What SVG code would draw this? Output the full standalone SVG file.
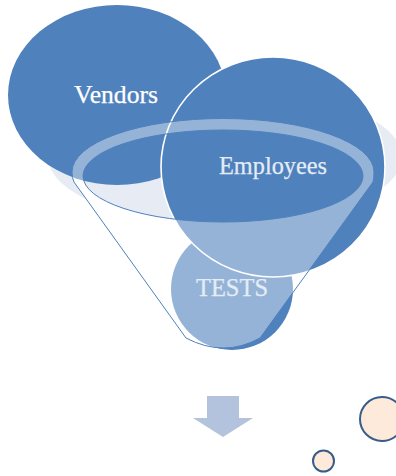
<svg xmlns="http://www.w3.org/2000/svg" width="396" height="476" viewBox="0 0 396 476">
<style>
.blue{fill:#4f81bd}
.lbl{font-family:"Liberation Serif","DejaVu Serif",serif;font-size:25px;fill:#fff;stroke:#fff;stroke-width:0.25}
.bub{fill:#fdeada;stroke:#385d8a;stroke-width:2}
</style>
<g id="connectors"/>
<g id="shadow">
<ellipse cx="225" cy="157" rx="177" ry="68" fill="#e6ebf4"/>
<path d="M72,172A151,53.5 0 0 1 374,172Q374,178 373,182L260,338Q224,358 186,338L74,182Q72,178 72,172ZM83,176A140,46 0 0 0 363,176A140,46 0 0 0 83,176Z" fill="#fff" fill-rule="evenodd"/>
</g>
<g id="vendors">
<ellipse class="blue" cx="117" cy="95" rx="109" ry="90"/>
<text class="lbl" x="74" y="103" textLength="84" lengthAdjust="spacingAndGlyphs">Vendors</text>
</g>
<g id="tests">
<circle class="blue" cx="232" cy="289" r="61"/>
</g>
<g id="employees">
<ellipse class="blue" cx="273" cy="167" rx="112" ry="110" stroke="#fff" stroke-width="1.6"/>
</g>
<g id="funnel">
<path d="M72,172A151,53.5 0 0 1 374,172Q374,178 373,182L260,338Q224,358 186,338L74,182Q72,178 72,172ZM83,176A140,46 0 0 0 363,176A140,46 0 0 0 83,176Z" fill="#fff" fill-opacity="0.4" fill-rule="evenodd"/>
<path d="M373,182L260,338Q224,358 186,338L74,182Q72,178 72,172A151,53.5 0 0 1 374,172Q374,178 373,182" fill="none" stroke="#4f81bd" stroke-width="1"/>
<ellipse cx="223" cy="176" rx="140" ry="46" fill="none" stroke="#4f81bd" stroke-width="1"/>
</g>
<g id="labels">
<text class="lbl" x="219" y="174" textLength="108" lengthAdjust="spacingAndGlyphs" opacity="0.85">Employees</text>
<text class="lbl" x="196" y="296" textLength="72" lengthAdjust="spacingAndGlyphs" opacity="0.75">TESTS</text>
</g>
<g id="arrow">
<path d="M207,396H239V418H253L223,437L193,418H207Z" fill="#b3c2dd"/>
</g>
<g id="bubble-large"><circle class="bub" cx="382" cy="419" r="22"/></g>
<g id="bubble-small"><circle class="bub" cx="323.500" cy="461" r="10.500"/></g>
</svg>
